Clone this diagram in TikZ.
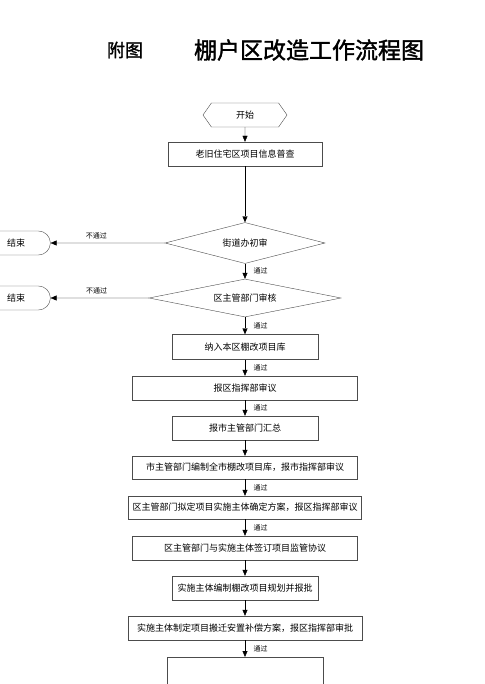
\documentclass[tikz,border=0pt]{standalone}
\usepackage{fontspec}
\setmainfont{Noto Sans CJK SC}
\newfontfamily\titlefont[FakeBold=1.5]{Noto Sans CJK SC}
\usetikzlibrary{arrows.meta,shapes.geometric,shapes.misc,shapes.symbols}

\begin{document}
\begin{tikzpicture}[x=1pt, y=-1pt, >={Triangle[length=6pt,width=5pt]},
	proc/.style={draw=black!70, thin, rectangle, minimum height=24pt, inner sep=0pt, font=\fontsize{9}{9}\selectfont},
	dec/.style={draw=black!70, thin, diamond, aspect=4, inner sep=0pt, font=\fontsize{9}{9}\selectfont},
	endbox/.style={draw=black!70, thin, rounded rectangle, rounded rectangle left arc=none, minimum width=68pt, minimum height=24pt, inner sep=0pt, font=\fontsize{9}{9}\selectfont},
	pass/.style={font=\fontsize{7}{7}\selectfont, right, xshift=5pt},
	flow/.style={->, black, thin}]
	\useasboundingbox (0,0) rectangle (484,684);
	
	% --- title ---
	\node (tag) at (125,50) {\titlefont\fontsize{18}{18}\selectfont 附图};
	\node (title) at (309,50) {\titlefont\fontsize{23}{23}\selectfont 棚户区改造工作流程图};
	
	% --- start and first check ---
	\node[draw=black!70, thin, signal, signal to=west and east, signal pointer angle=110,
	      minimum width=84pt, minimum height=24pt, inner sep=0pt, font=\fontsize{9}{9}\selectfont] (start) at (245,115) {开始};
	\node[proc, minimum width=154pt] (survey) at (245,154) {老旧住宅区项目信息普查};
	\node[dec, minimum width=160pt, minimum height=41pt] (street) at (245,243) {街道办初审};
	\node[endbox] (end1) at (16,243) {结束};
	
	\node[dec, aspect=5, minimum width=192pt, minimum height=38pt] (district) at (245,298) {区主管部门审核};
	\node[endbox] (end2) at (16,298) {结束};
	
	% --- boxes down the page ---
	\node[proc, minimum width=146pt, minimum height=25pt] (lib) at (245,347) {纳入本区棚改项目库};
	\node[proc, minimum width=225pt] (hq) at (245,388) {报区指挥部审议};
	\node[proc, minimum width=146pt] (city) at (245,428) {报市主管部门汇总};
	\node[proc, minimum width=225pt, minimum height=23pt] (citylib) at (245,467.5) {市主管部门编制全市棚改项目库，报市指挥部审议};
	\node[proc, minimum width=233pt, minimum height=23pt] (owner) at (245,507.5) {区主管部门拟定项目实施主体确定方案，报区指挥部审议};
	\node[proc, minimum width=225pt] (pact) at (245,548) {区主管部门与实施主体签订项目监管协议};
	\node[proc, minimum width=146pt] (plan) at (245,588) {实施主体编制棚改项目规划并报批};
	\node[proc, minimum width=234pt] (reloc) at (245,628) {实施主体制定项目搬迁安置补偿方案，报区指挥部审批};
	\node[proc, minimum width=156pt, minimum height=40pt, anchor=north] (next) at (245,657) {};
	
	% --- connectors ---
	\draw[flow] (start) -- (survey);
	\draw[flow] (survey) -- (street);
	\draw[flow] (street) -- (end1) node[pos=0.6, above, font=\fontsize{7}{7}\selectfont] {不通过};
	\draw[flow] (street) -- (district) node[midway, pass] {通过};
	\draw[flow] (district) -- (end2) node[pos=0.53, above, font=\fontsize{7}{7}\selectfont] {不通过};
	\draw[flow] (district) -- (lib) node[midway, pass] {通过};
	\draw[flow] (lib) -- (hq) node[midway, pass] {通过};
	\draw[flow] (hq) -- (city) node[midway, pass] {通过};
	\draw[flow] (city) -- (citylib);
	\draw[flow] (citylib) -- (owner) node[midway, pass] {通过};
	\draw[flow] (owner) -- (pact) node[midway, pass] {通过};
	\draw[flow] (pact) -- (plan);
	\draw[flow] (plan) -- (reloc);
	\draw[flow] (reloc) -- (next) node[midway, pass] {通过};
\end{tikzpicture}
\end{document}
